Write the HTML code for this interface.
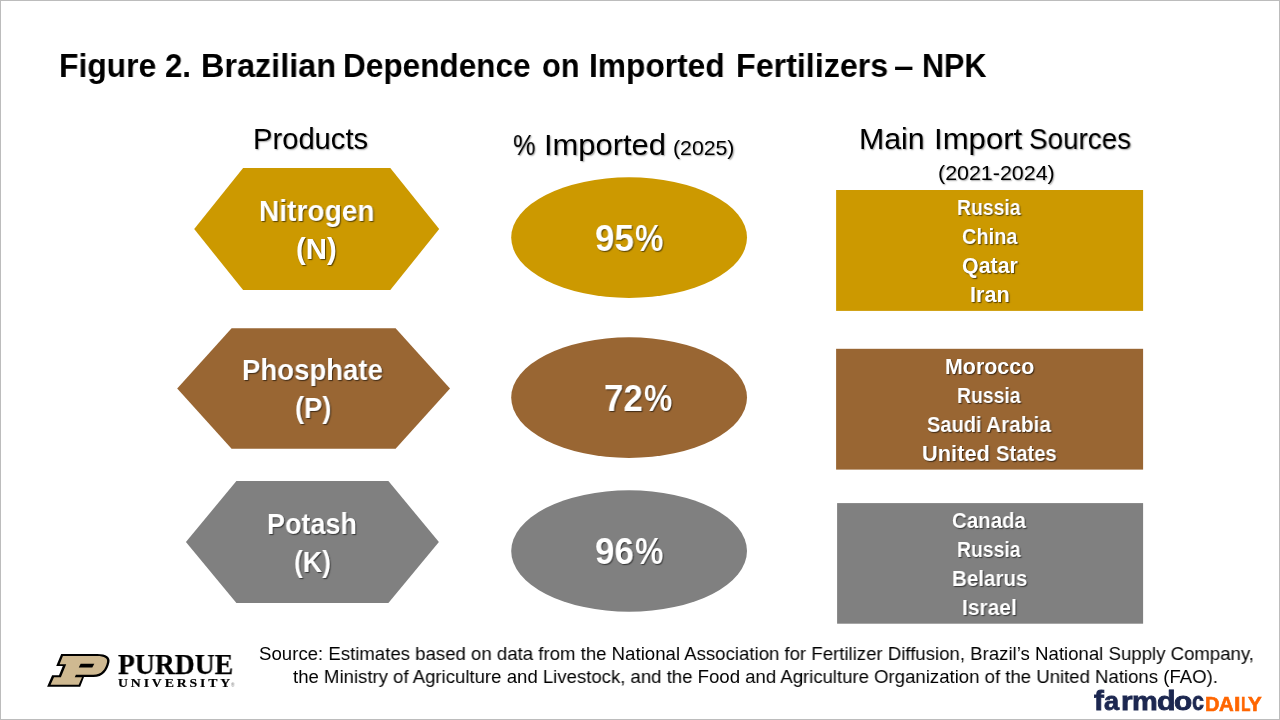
<!DOCTYPE html>
<html lang="en">
<head>
<meta charset="utf-8">
<title>Figure 2. Brazilian Dependence on Imported Fertilizers - NPK</title>
<style>
html,body{margin:0;padding:0;background:#fff;}
body{width:1280px;height:720px;overflow:hidden;position:relative;font-family:"Liberation Sans",sans-serif;}
#frame{position:absolute;left:0;top:0;width:1278px;height:718px;border:1px solid #bcbcbc;z-index:5;pointer-events:none;}
svg{position:absolute;left:0;top:0;}
.t{position:absolute;white-space:nowrap;line-height:0;transform-origin:0 50%;display:block;will-change:transform;}
</style>
</head>
<body>
<svg width="1280" height="720" viewBox="0 0 1280 720">
<polygon points="194.2,229.1 243.1,168.1 390.3,168.1 439.2,229.1 390.3,290.0 243.1,290.0" fill="#CC9900"/>
<polygon points="177.2,388.4 231.6,328.2 395.6,328.2 450.0,388.4 395.6,448.7 231.6,448.7" fill="#996633"/>
<polygon points="185.9,542.0 236.4,481.0 388.4,481.0 438.9,542.0 388.4,603.0 236.4,603.0" fill="#808080"/>
<ellipse cx="629.1" cy="237.6" rx="117.9" ry="60.3" fill="#CC9900"/>
<ellipse cx="629.1" cy="397.6" rx="117.9" ry="60.3" fill="#996633"/>
<ellipse cx="629.1" cy="551.0" rx="117.9" ry="60.7" fill="#808080"/>
<rect x="836.1" y="190.0" width="307.0" height="120.9" fill="#CC9900"/>
<rect x="836.1" y="348.8" width="307.0" height="120.8" fill="#996633"/>
<rect x="837.1" y="503.1" width="306.0" height="120.6" fill="#808080"/>

<path d="M61.2 653.9 L97.1 653.9 C106.5 653.9 110.6 657.2 109.4 662.2 C107.6 670.6 103.0 677.0 93.5 677.0 L84.0 677.0 L80.2 686.8 L47.1 686.8 L52.1 675.2 L59.0 675.2 L62.8 666.1 L56.2 666.1 Z" fill="#000"/>
<path d="M62.9 656.1 L96.8 656.1 C104.6 656.1 107.9 658.4 107.0 662.2 C105.6 669.0 101.6 674.8 93.3 674.8 L75.9 674.8 L74.8 677.2 L82.0 677.2 L78.7 684.8 L50.6 684.8 L54.0 677.2 L60.9 677.2 L66.2 664.2 L59.6 664.2 Z" fill="#CFB991"/>
<path d="M80.6 663.7 L94.3 663.7 L92.3 667.5 L78.8 667.5 Z" fill="#000"/>
<rect x="1168.85" y="689.4" width="5.05" height="1.8" fill="#1c2750"/>

</svg>
<span class="t" style="left:58.51px;top:65.80px;font-size:32.6px;font-weight:700;color:#000;transform:scaleX(0.9766);">Figure </span>
<span class="t" style="left:164.52px;top:65.80px;font-size:32.6px;font-weight:700;color:#000;transform:scaleX(0.9591);">2. </span>
<span class="t" style="left:200.97px;top:65.80px;font-size:32.6px;font-weight:700;color:#000;transform:scaleX(0.9943);">Brazilian </span>
<span class="t" style="left:343.03px;top:65.80px;font-size:32.6px;font-weight:700;color:#000;transform:scaleX(0.9686);">Dependence </span>
<span class="t" style="left:541.54px;top:65.80px;font-size:32.6px;font-weight:700;color:#000;transform:scaleX(0.9401);">on </span>
<span class="t" style="left:589.27px;top:65.80px;font-size:32.6px;font-weight:700;color:#000;transform:scaleX(0.9735);">Imported </span>
<span class="t" style="left:735.98px;top:65.80px;font-size:32.6px;font-weight:700;color:#000;transform:scaleX(0.9891);">Fertilizers </span>
<span class="t" style="left:894.45px;top:65.80px;font-size:32.6px;font-weight:700;color:#000;transform:scaleX(1.0768);">– </span>
<span class="t" style="left:921.59px;top:65.80px;font-size:32.6px;font-weight:700;color:#000;transform:scaleX(0.9373);">NPK </span>
<span class="t" style="left:253.32px;top:139.41px;font-size:28.8px;font-weight:400;color:#000;transform:scaleX(1.0126);text-shadow:1px 1px 1.5px rgba(0,0,0,0.35);">Products </span>
<span class="t" style="left:513.21px;top:144.71px;font-size:28.8px;font-weight:400;color:#000;transform:scaleX(0.8805);text-shadow:1px 1px 1.5px rgba(0,0,0,0.35);">% </span>
<span class="t" style="left:543.84px;top:144.71px;font-size:28.8px;font-weight:400;color:#000;transform:scaleX(1.0725);text-shadow:1px 1px 1.5px rgba(0,0,0,0.35);">Imported </span>
<span class="t" style="left:672.75px;top:147.71px;font-size:20.8px;font-weight:400;color:#000;transform:scaleX(1.0220);text-shadow:1px 1px 1.5px rgba(0,0,0,0.35);">(2025) </span>
<span class="t" style="left:859.13px;top:139.41px;font-size:28.8px;font-weight:400;color:#000;transform:scaleX(1.0520);text-shadow:1px 1px 1.5px rgba(0,0,0,0.35);">Main </span>
<span class="t" style="left:933.57px;top:139.41px;font-size:28.8px;font-weight:400;color:#000;transform:scaleX(1.0809);text-shadow:1px 1px 1.5px rgba(0,0,0,0.35);">Import </span>
<span class="t" style="left:1029.38px;top:139.41px;font-size:28.8px;font-weight:400;color:#000;transform:scaleX(0.9663);text-shadow:1px 1px 1.5px rgba(0,0,0,0.35);">Sources </span>
<span class="t" style="left:937.50px;top:172.71px;font-size:20.8px;font-weight:400;color:#000;transform:scaleX(1.0299);text-shadow:1px 1px 1.5px rgba(0,0,0,0.35);">(2021-2024) </span>
<span class="t" style="left:258.84px;top:210.61px;font-size:28.8px;font-weight:700;color:#fff;transform:scaleX(0.9766);text-shadow:1px 1px 1.2px rgba(0,0,0,0.6);">Nitrogen </span>
<span class="t" style="left:295.87px;top:248.50px;font-size:28.8px;font-weight:700;color:#fff;transform:scaleX(1.0202);text-shadow:1px 1px 1.2px rgba(0,0,0,0.6);">(N) </span>
<span class="t" style="left:242.03px;top:370.00px;font-size:28.8px;font-weight:700;color:#fff;transform:scaleX(0.9571);text-shadow:1px 1px 1.2px rgba(0,0,0,0.6);">Phosphate </span>
<span class="t" style="left:294.72px;top:408.11px;font-size:28.8px;font-weight:700;color:#fff;transform:scaleX(0.9514);text-shadow:1px 1px 1.2px rgba(0,0,0,0.6);">(P) </span>
<span class="t" style="left:267.07px;top:523.75px;font-size:28.8px;font-weight:700;color:#fff;transform:scaleX(0.9356);text-shadow:1px 1px 1.2px rgba(0,0,0,0.6);">Potash </span>
<span class="t" style="left:293.75px;top:561.50px;font-size:28.8px;font-weight:700;color:#fff;transform:scaleX(0.9245);text-shadow:1px 1px 1.2px rgba(0,0,0,0.6);">(K) </span>
<span class="t" style="left:594.90px;top:239.00px;font-size:36.5px;font-weight:700;color:#fff;transform:scaleX(0.9624);text-shadow:1px 1px 1.2px rgba(0,0,0,0.6);">95 </span>
<span class="t" style="left:635.10px;top:239.00px;font-size:36.5px;font-weight:700;color:#fff;transform:scaleX(0.8767);text-shadow:1px 1px 1.2px rgba(0,0,0,0.6);">% </span>
<span class="t" style="left:603.91px;top:398.61px;font-size:36.5px;font-weight:700;color:#fff;transform:scaleX(0.9598);text-shadow:1px 1px 1.2px rgba(0,0,0,0.6);">72 </span>
<span class="t" style="left:644.10px;top:398.61px;font-size:36.5px;font-weight:700;color:#fff;transform:scaleX(0.8703);text-shadow:1px 1px 1.2px rgba(0,0,0,0.6);">% </span>
<span class="t" style="left:594.90px;top:552.00px;font-size:36.5px;font-weight:700;color:#fff;transform:scaleX(0.9624);text-shadow:1px 1px 1.2px rgba(0,0,0,0.6);">96 </span>
<span class="t" style="left:635.10px;top:552.00px;font-size:36.5px;font-weight:700;color:#fff;transform:scaleX(0.8767);text-shadow:1px 1px 1.2px rgba(0,0,0,0.6);">% </span>
<span class="t" style="left:957.29px;top:208.11px;font-size:21.4px;font-weight:700;color:#fff;transform:scaleX(0.9061);text-shadow:1px 1px 1.2px rgba(0,0,0,0.6);">Russia </span>
<span class="t" style="left:961.63px;top:236.91px;font-size:21.4px;font-weight:700;color:#fff;transform:scaleX(0.9336);text-shadow:1px 1px 1.2px rgba(0,0,0,0.6);">China </span>
<span class="t" style="left:961.58px;top:265.71px;font-size:21.4px;font-weight:700;color:#fff;transform:scaleX(1.0012);text-shadow:1px 1px 1.2px rgba(0,0,0,0.6);">Qatar </span>
<span class="t" style="left:969.64px;top:294.91px;font-size:21.4px;font-weight:700;color:#fff;transform:scaleX(1.0169);text-shadow:1px 1px 1.2px rgba(0,0,0,0.6);">Iran </span>
<span class="t" style="left:944.91px;top:366.75px;font-size:21.4px;font-weight:700;color:#fff;transform:scaleX(1.0013);text-shadow:1px 1px 1.2px rgba(0,0,0,0.6);">Morocco </span>
<span class="t" style="left:957.29px;top:395.50px;font-size:21.4px;font-weight:700;color:#fff;transform:scaleX(0.9061);text-shadow:1px 1px 1.2px rgba(0,0,0,0.6);">Russia </span>
<span class="t" style="left:926.59px;top:424.91px;font-size:21.4px;font-weight:700;color:#fff;transform:scaleX(0.9371);text-shadow:1px 1px 1.2px rgba(0,0,0,0.6);">Saudi </span>
<span class="t" style="left:986.17px;top:424.91px;font-size:21.4px;font-weight:700;color:#fff;transform:scaleX(0.9751);text-shadow:1px 1px 1.2px rgba(0,0,0,0.6);">Arabia </span>
<span class="t" style="left:922.48px;top:453.61px;font-size:21.4px;font-weight:700;color:#fff;transform:scaleX(1.0202);text-shadow:1px 1px 1.2px rgba(0,0,0,0.6);">United </span>
<span class="t" style="left:995.68px;top:453.61px;font-size:21.4px;font-weight:700;color:#fff;transform:scaleX(0.9456);text-shadow:1px 1px 1.2px rgba(0,0,0,0.6);">States </span>
<span class="t" style="left:952.11px;top:520.75px;font-size:21.4px;font-weight:700;color:#fff;transform:scaleX(0.9574);text-shadow:1px 1px 1.2px rgba(0,0,0,0.6);">Canada </span>
<span class="t" style="left:957.29px;top:549.50px;font-size:21.4px;font-weight:700;color:#fff;transform:scaleX(0.9061);text-shadow:1px 1px 1.2px rgba(0,0,0,0.6);">Russia </span>
<span class="t" style="left:951.81px;top:578.91px;font-size:21.4px;font-weight:700;color:#fff;transform:scaleX(0.9620);text-shadow:1px 1px 1.2px rgba(0,0,0,0.6);">Belarus </span>
<span class="t" style="left:961.79px;top:607.75px;font-size:21.4px;font-weight:700;color:#fff;transform:scaleX(0.9808);text-shadow:1px 1px 1.2px rgba(0,0,0,0.6);">Israel </span>
<span class="t" style="left:258.52px;top:653.91px;font-size:18.67px;font-weight:400;color:#000;transform:scaleX(0.9974);">Source: Estimates based on data from the National Association for Fertilizer Diffusion, Brazil’s National Supply Company, </span>
<span class="t" style="left:292.50px;top:676.91px;font-size:18.67px;font-weight:400;color:#000;transform:scaleX(0.9954);">the Ministry of Agriculture and Livestock, and the Food and Agriculture Organization of the United Nations (FAO). </span>
<span class="t" style="left:117.57px;top:663.50px;font-size:28.7px;font-weight:700;color:#000;transform:scaleX(0.9625);font-family:'Liberation Serif',serif;-webkit-text-stroke:0.25px #000;">PURDUE </span>
<span class="t" style="left:117.88px;top:682.80px;font-size:13.4px;font-weight:700;color:#000;transform:scaleX(1.0277);font-family:'Liberation Serif',serif;letter-spacing:2.8px;-webkit-text-stroke:0.2px #000;">UNIVERSITY </span>
<span class="t" style="left:231.15px;top:684.80px;font-size:5.5px;font-weight:400;color:#777;transform:scaleX(0.8635);">® </span>
<span class="t" style="left:1093.79px;top:701.30px;font-size:25.4px;font-weight:700;color:#1c2750;transform-origin:0 9.00px;transform:scale(1.1579,1.0800);-webkit-text-stroke:0.8px #1c2750;">f</span>
<span class="t" style="left:1103.98px;top:701.30px;font-size:25.4px;font-weight:700;color:#1c2750;transform:scaleX(1.0691);-webkit-text-stroke:0.8px #1c2750;">a</span>
<span class="t" style="left:1120.84px;top:701.30px;font-size:25.4px;font-weight:700;color:#1c2750;transform:scaleX(1.1717);-webkit-text-stroke:0.8px #1c2750;">r</span>
<span class="t" style="left:1132.29px;top:701.30px;font-size:25.4px;font-weight:700;color:#1c2750;transform:scaleX(1.1390);-webkit-text-stroke:0.8px #1c2750;">m</span>
<span class="t" style="left:1157.15px;top:701.30px;font-size:25.4px;font-weight:700;color:#1c2750;transform:scaleX(1.1949);-webkit-text-stroke:0.8px #1c2750;">d</span>
<span class="t" style="left:1174.37px;top:701.30px;font-size:25.4px;font-weight:700;color:#1c2750;transform:scaleX(1.1735);-webkit-text-stroke:0.8px #1c2750;">o</span>
<span class="t" style="left:1192.43px;top:701.30px;font-size:25.4px;font-weight:700;color:#1c2750;transform:scaleX(0.8386);-webkit-text-stroke:0.8px #1c2750;">c</span>
<span class="t" style="left:1204.87px;top:703.91px;font-size:20.0px;font-weight:700;color:#ff6600;transform:scaleX(0.9840);-webkit-text-stroke:0.6px #ff6600;">D</span>
<span class="t" style="left:1218.78px;top:703.91px;font-size:20.0px;font-weight:700;color:#ff6600;transform:scaleX(1.0182);-webkit-text-stroke:0.6px #ff6600;">A</span>
<span class="t" style="left:1233.56px;top:703.91px;font-size:20.0px;font-weight:700;color:#ff6600;transform:scaleX(1.1520);-webkit-text-stroke:0.6px #ff6600;">I</span>
<span class="t" style="left:1240.78px;top:703.91px;font-size:20.0px;font-weight:700;color:#ff6600;transform:scaleX(0.7765);-webkit-text-stroke:0.6px #ff6600;">L</span>
<span class="t" style="left:1248.43px;top:703.91px;font-size:20.0px;font-weight:700;color:#ff6600;transform:scaleX(1.0263);-webkit-text-stroke:0.6px #ff6600;">Y</span>
<div id="frame"></div>
</body>
</html>
